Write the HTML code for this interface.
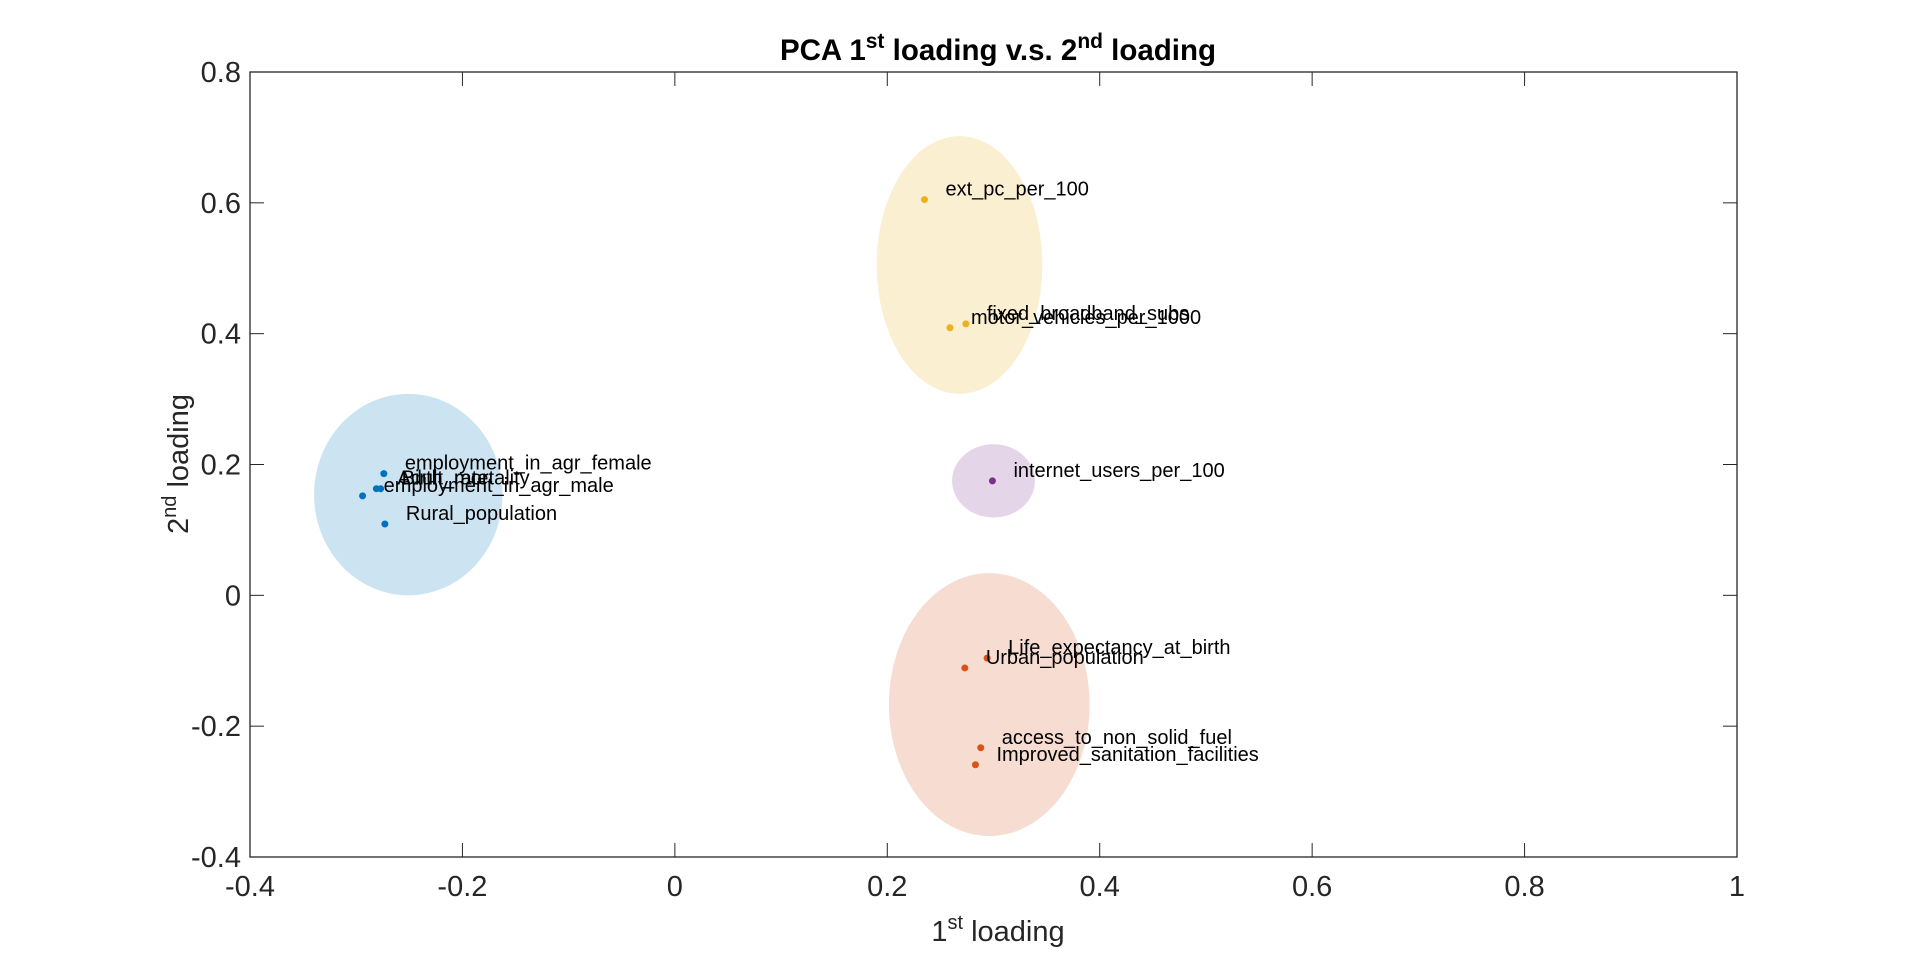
<!DOCTYPE html>
<html><head><meta charset="utf-8"><style>
html,body{margin:0;padding:0;background:#fff;}
svg{display:block;font-family:"Liberation Sans",Arial,sans-serif;}
</style></head><body>
<svg id="chart" width="1920" height="963" xmlns="http://www.w3.org/2000/svg">
<rect width="1920" height="963" fill="#fff"/>
<g id="ellipses"></g>
<g id="axes"></g>
<g id="points"></g>
<text x="998" y="60" text-anchor="middle" font-size="29.5" font-weight="bold" fill="#000">PCA 1<tspan dy="-12" font-size="21">st</tspan><tspan dy="12"> loading v.s. 2</tspan><tspan dy="-12" font-size="21">nd</tspan><tspan dy="12"> loading</tspan></text>
<text x="998" y="941" text-anchor="middle" font-size="29" fill="#262626">1<tspan dy="-12" font-size="20">st</tspan><tspan dy="12"> loading</tspan></text>
<text transform="translate(188,464) rotate(-90)" text-anchor="middle" font-size="29" fill="#262626">2<tspan dy="-12" font-size="20">nd</tspan><tspan dy="12"> loading</tspan></text>
</svg>
<script>
const labels=["employment_in_agr_female","Birth_rate","Adult_mortality","employment_in_agr_male","Rural_population","ext_pc_per_100","fixed_broadband_subs","motor_vehicles_per_1000","internet_users_per_100","Life_expectancy_at_birth","Urban_population","access_to_non_solid_fuel","Improved_sanitation_facilities"];
const xVals=[-0.274,-0.277,-0.281,-0.294,-0.273,0.235,0.274,0.259,0.299,0.294,0.273,0.288,0.283];
const yVals=[0.186,0.163,0.163,0.152,0.109,0.605,0.415,0.409,0.175,-0.096,-0.111,-0.233,-0.259];
const groups=[0,0,0,0,0,1,1,1,2,3,3,3,3];
const ellCx=[-0.251,0.268,0.300,0.296];
const ellCy=[0.154,0.505,0.175,-0.167];
const ellRx=[0.0887,0.078,0.039,0.0945];
const ellRy=[0.154,0.197,0.056,0.201];
const groupNames=["social-cluster","technology-cluster","internet-cluster","health-cluster"];
const groupColors=["#0072BD","#EDB120","#7E2F8E","#D95319"];
const xTicks=[-0.4,-0.2,0,0.2,0.4,0.6,0.8,1];
const yTicks=[-0.4,-0.2,0,0.2,0.4,0.6,0.8];
const xTickLabels=["-0.4","-0.2","0","0.2","0.4","0.6","0.8","1"];
const yTickLabels=["-0.4","-0.2","0","0.2","0.4","0.6","0.8"];

const L=250,R=1737,T=72,B=857,X0=-0.4,X1=1,Y0=-0.4,Y1=0.8;
const sx=v=>L+(v-X0)/(X1-X0)*(R-L);
const sy=v=>B-(v-Y0)/(Y1-Y0)*(B-T);
const NS="http://www.w3.org/2000/svg";
function mk(tag,attrs,parent){const e=document.createElementNS(NS,tag);for(const k in attrs)e.setAttribute(k,attrs[k]);parent.appendChild(e);return e;}

const eg=document.getElementById('ellipses');
for(let i=0;i<ellCx.length;i++){
  const e=mk('ellipse',{cx:sx(ellCx[i]),cy:sy(ellCy[i]),rx:ellRx[i]*(R-L)/(X1-X0),ry:ellRy[i]*(B-T)/(Y1-Y0),fill:groupColors[i],'fill-opacity':0.2},eg);
  
  
}

const ax=document.getElementById('axes');
const box=mk('rect',{x:L,y:T,width:R-L,height:B-T,fill:'none',stroke:'#262626','stroke-width':1.3},ax);


for(let i=0;i<xTicks.length;i++){
  const x=sx(xTicks[i]);
  mk('line',{x1:x,x2:x,y1:B,y2:B-14,stroke:'#262626','stroke-width':1},ax);
  mk('line',{x1:x,x2:x,y1:T,y2:T+14,stroke:'#262626','stroke-width':1},ax);
  const t=mk('text',{x:x,y:B+39,'text-anchor':'middle','font-size':29,fill:'#262626'},ax);
  t.textContent=xTickLabels[i];
  
  
}
for(let i=0;i<yTicks.length;i++){
  const y=sy(yTicks[i]);
  mk('line',{x1:L,x2:L+14,y1:y,y2:y,stroke:'#262626','stroke-width':1},ax);
  mk('line',{x1:R,x2:R-14,y1:y,y2:y,stroke:'#262626','stroke-width':1},ax);
  const t=mk('text',{x:L-9,y:y+10,'text-anchor':'end','font-size':29,fill:'#262626'},ax);
  t.textContent=yTickLabels[i];
  
  
}

const pg=document.getElementById('points');
for(let i=0;i<labels.length;i++){
  const px=sx(xVals[i]),py=sy(yVals[i]);
  const c=mk('circle',{cx:px,cy:py,r:3.5,fill:groupColors[groups[i]]},pg);
  
  
  const t=mk('text',{x:px+21,y:py-4,'font-size':20,fill:'#000'},pg);
  t.textContent=labels[i];
  
  
}
</script>
</body></html>
